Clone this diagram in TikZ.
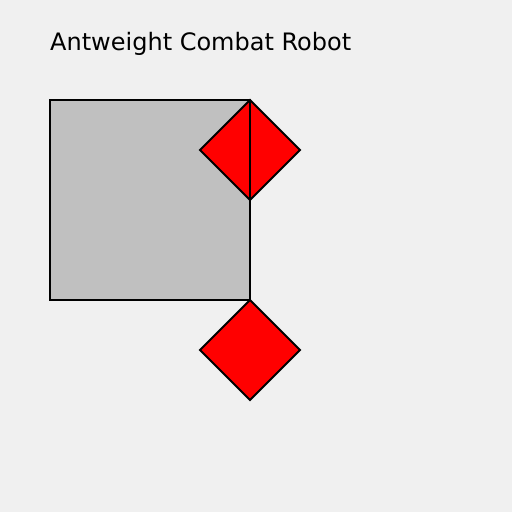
\documentclass[tikz,border=0pt]{standalone}
\usepackage{fontspec}
\setmainfont{DejaVu Sans}
\definecolor{bg}{HTML}{F0F0F0}
\definecolor{body}{HTML}{C0C0C0}
\tikzset{
  part/.style={draw=black, line width=2pt, line join=miter},
  title/.style={anchor=base west, inner sep=0pt, font=\fontsize{24}{28}\selectfont}
}
\begin{document}
\begin{tikzpicture}[x=1pt,y=-1pt]
\fill[bg] (0,0) rectangle (512,512);
\useasboundingbox (0,0) rectangle (512,512);
\node[title] (t) at (50,50) {Antweight Combat Robot};
\draw[part, fill=body] (50,100) rectangle (250,300);
\draw[part, fill=red] (250,100) -- (300,150) -- (250,200) -- (200,150) -- cycle;
\draw[part] (250,100) -- (250,200);
\draw[part, fill=red] (250,300) -- (300,350) -- (250,400) -- (200,350) -- cycle;
\end{tikzpicture}
\end{document}
